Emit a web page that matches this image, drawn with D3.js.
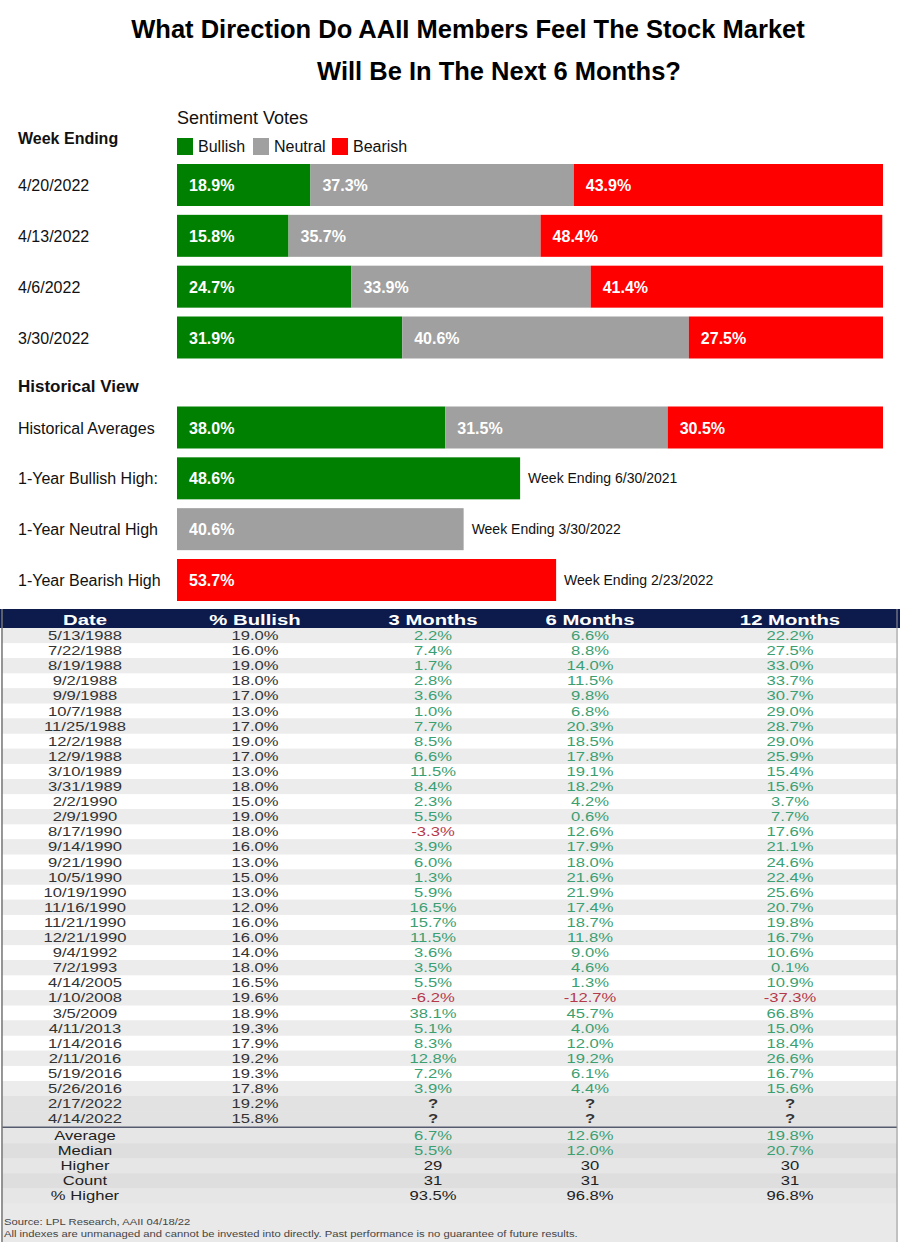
<!DOCTYPE html>
<html>
<head>
<meta charset="utf-8">
<script src="https://cdn.jsdelivr.net/npm/d3@7"></script>
<style>
  body { margin: 0; background: #fff; }
  text { font-family: "Liberation Sans", Arial, sans-serif; }
</style>
</head>
<body>
<div id="chart"></div>
<script>
// Weekly sentiment votes
var weeks = ["4/20/2022", "4/13/2022", "4/6/2022", "3/30/2022"];
var weekBullish = [18.9, 15.8, 24.7, 31.9];
var weekNeutral = [37.3, 35.7, 33.9, 40.6];
var weekBearish = [43.9, 48.4, 41.4, 27.5];

// Historical view
var histAvgLabel = "Historical Averages";
var histAvg = [38.0, 31.5, 30.5];
var highLabels = ["1-Year Bullish High:", "1-Year Neutral High", "1-Year Bearish High"];
var highValues = [48.6, 40.6, 53.7];
var highWeeks = ["Week Ending 6/30/2021", "Week Ending 3/30/2022", "Week Ending 2/23/2022"];

// Table: low bullish readings and forward returns
var tableHeaders = ["Date", "% Bullish", "3 Months", "6 Months", "12 Months"];
var tableDates = ["5/13/1988", "7/22/1988", "8/19/1988", "9/2/1988", "9/9/1988", "10/7/1988",
  "11/25/1988", "12/2/1988", "12/9/1988", "3/10/1989", "3/31/1989", "2/2/1990", "2/9/1990",
  "8/17/1990", "9/14/1990", "9/21/1990", "10/5/1990", "10/19/1990", "11/16/1990", "11/21/1990",
  "12/21/1990", "9/4/1992", "7/2/1993", "4/14/2005", "1/10/2008", "3/5/2009", "4/11/2013",
  "1/14/2016", "2/11/2016", "5/19/2016", "5/26/2016", "2/17/2022", "4/14/2022"];
var tableBullish = [19.0, 16.0, 19.0, 18.0, 17.0, 13.0, 17.0, 19.0, 17.0, 13.0, 18.0, 15.0, 19.0,
  18.0, 16.0, 13.0, 15.0, 13.0, 12.0, 16.0, 16.0, 14.0, 18.0, 16.5, 19.6, 18.9, 19.3,
  17.9, 19.2, 19.3, 17.8, 19.2, 15.8];
var ret3m = [2.2, 7.4, 1.7, 2.8, 3.6, 1.0, 7.7, 8.5, 6.6, 11.5, 8.4, 2.3, 5.5, -3.3, 3.9, 6.0, 1.3,
  5.9, 16.5, 15.7, 11.5, 3.6, 3.5, 5.5, -6.2, 38.1, 5.1, 8.3, 12.8, 7.2, 3.9, null, null];
var ret6m = [6.6, 8.8, 14.0, 11.5, 9.8, 6.8, 20.3, 18.5, 17.8, 19.1, 18.2, 4.2, 0.6, 12.6, 17.9,
  18.0, 21.6, 21.9, 17.4, 18.7, 11.8, 9.0, 4.6, 1.3, -12.7, 45.7, 4.0, 12.0, 19.2, 6.1, 4.4, null, null];
var ret12m = [22.2, 27.5, 33.0, 33.7, 30.7, 29.0, 28.7, 29.0, 25.9, 15.4, 15.6, 3.7, 7.7, 17.6,
  21.1, 24.6, 22.4, 25.6, 20.7, 19.8, 16.7, 10.6, 0.1, 10.9, -37.3, 66.8, 15.0, 18.4, 26.6, 16.7,
  15.6, null, null];
var summaryLabels = ["Average", "Median", "Higher", "Count", "% Higher"];
var summary3m = ["6.7%", "5.5%", "29", "31", "93.5%"];
var summary6m = ["12.6%", "12.0%", "30", "31", "96.8%"];
var summary12m = ["19.8%", "20.7%", "30", "31", "96.8%"];
var sourceNotes = ["Source: LPL Research, AAII 04/18/22",
  "All indexes are unmanaged and cannot be invested into directly. Past performance is no guarantee of future results."];

var W = 900, H = 1242;
var GREEN = "#008000", GRAY = "#a0a0a0", RED = "#ff0000";
var svg = d3.select("#chart").append("svg").attr("width", W).attr("height", H);

// Title (second line sits a little right of the first, as in the source)
svg.selectAll(".title").data(["What Direction Do AAII Members Feel The Stock Market",
  "Will Be In The Next 6 Months?"]).enter().append("text")
  .attr("x", function (d, i) { return i === 0 ? 468 : 499; })
  .attr("y", function (d, i) { return 38 + i * 42; })
  .attr("text-anchor", "middle").style("font-size", "25.5px").style("font-weight", "bold")
  .attr("fill", "#000").text(function (d) { return d; });

// x scale shared by all bars
var x = d3.scaleLinear().domain([0, 100]).range([177, 883]);
var barH = 42;

svg.append("text").attr("x", 177).attr("y", 124).style("font-size", "18px").attr("fill", "#111")
  .text("Sentiment Votes");
svg.append("text").attr("x", 18).attr("y", 144).style("font-size", "16px").style("font-weight", "bold")
  .attr("fill", "#111").text("Week Ending");

// Legend
var legend = [["Bullish", GREEN, 177], ["Neutral", GRAY, 253], ["Bearish", RED, 332]];
var lg = svg.selectAll(".lg").data(legend).enter().append("g")
  .attr("transform", function (d) { return "translate(" + d[2] + ",138)"; });
lg.append("rect").attr("width", 16).attr("height", 17).attr("fill", function (d) { return d[1]; });
lg.append("text").attr("x", 21).attr("y", 14).style("font-size", "16px").attr("fill", "#111")
  .text(function (d) { return d[0]; });

// Stacked bars helper
function stackedRow(g, vals) {
  var cols = [GREEN, GRAY, RED];
  var start = 0;
  vals.forEach(function (v, i) {
    var end = Math.min(start + v, 100);
    g.append("rect").attr("x", x(start)).attr("y", -barH / 2)
      .attr("width", x(end) - x(start)).attr("height", barH).attr("fill", cols[i]);
    g.append("text").attr("x", x(start) + 12).attr("y", 6)
      .style("font-size", "16px").style("font-weight", "bold").attr("fill", "#fff")
      .text(v.toFixed(1) + "%");
    start = end;
  });
}

var yWeek = d3.scalePoint().domain(weeks).range([185, 337.5]);
weeks.forEach(function (w, i) {
  var g = svg.append("g").attr("transform", "translate(0," + yWeek(w) + ")");
  g.append("text").attr("x", 18).attr("y", 6).style("font-size", "16px").attr("fill", "#111").text(w);
  stackedRow(g, [weekBullish[i], weekNeutral[i], weekBearish[i]]);
});

svg.append("text").attr("x", 18).attr("y", 392).style("font-size", "17px").style("font-weight", "bold")
  .attr("fill", "#111").text("Historical View");

var histRows = [histAvgLabel].concat(highLabels);
var yHist = d3.scalePoint().domain(histRows).range([427.5, 580]);
var ga = svg.append("g").attr("transform", "translate(0," + yHist(histAvgLabel) + ")");
ga.append("text").attr("x", 18).attr("y", 6).style("font-size", "16px").attr("fill", "#111").text(histAvgLabel);
stackedRow(ga, histAvg);

var highCols = [GREEN, GRAY, RED];
highLabels.forEach(function (lab, i) {
  var g = svg.append("g").attr("transform", "translate(0," + yHist(lab) + ")");
  g.append("text").attr("x", 18).attr("y", 6).style("font-size", "16px").attr("fill", "#111").text(lab);
  g.append("rect").attr("x", x(0)).attr("y", -barH / 2).attr("width", x(highValues[i]) - x(0))
    .attr("height", barH).attr("fill", highCols[i]);
  g.append("text").attr("x", x(0) + 12).attr("y", 6).style("font-size", "16px")
    .style("font-weight", "bold").attr("fill", "#fff").text(highValues[i].toFixed(1) + "%");
  g.append("text").attr("x", x(highValues[i]) + 8).attr("y", 5).style("font-size", "14px")
    .attr("fill", "#111").text(highWeeks[i]);
});

// ---- Table ----
var tTop = 609, headH = 19;
var colX = d3.scaleOrdinal().domain(tableHeaders).range([85, 255, 433, 590, 790]);
var yRow = d3.scaleBand().domain(tableDates).range([tTop + headH, tTop + headH + 33 * 15.1]);
var sumTop = yRow.range()[1] + 2;
var ySum = d3.scaleBand().domain(summaryLabels).range([sumTop, sumTop + 5 * 15]);

// background panel
svg.append("rect").attr("x", 1).attr("y", tTop).attr("width", 897).attr("height", H - tTop)
  .attr("fill", "#e9e9e9");
svg.selectAll(".rowbg").data(tableDates).enter().append("rect")
  .attr("x", 2).attr("y", function (d) { return yRow(d); }).attr("width", 895)
  .attr("height", yRow.bandwidth())
  .attr("fill", function (d, i) { return i >= 31 ? "#e2e2e2" : (i % 2 === 0 ? "#ececec" : "#fff"); });
svg.selectAll(".sumbg").data(summaryLabels).enter().append("rect")
  .attr("x", 2).attr("y", function (d) { return ySum(d); }).attr("width", 895)
  .attr("height", ySum.bandwidth())
  .attr("fill", function (d, i) { return i % 2 === 0 ? "#e6e6e6" : "#dedede"; });
svg.append("rect").attr("x", 0).attr("y", tTop).attr("width", 900).attr("height", headH).attr("fill", "#0c1b4b");
svg.append("line").attr("x1", 2).attr("x2", 897).attr("y1", sumTop - 1).attr("y2", sumTop - 1)
  .attr("stroke", "#555b6e").attr("stroke-width", 1.5);
svg.append("line").attr("x1", 2).attr("x2", 2).attr("y1", tTop).attr("y2", H)
  .attr("stroke", "#777").attr("stroke-width", 1.5);
svg.append("line").attr("x1", 897).attr("x2", 897).attr("y1", tTop).attr("y2", H)
  .attr("stroke", "#999").attr("stroke-width", 1);

function cell(txt, cx, cy, opts) {
  svg.append("text").attr("transform", "translate(" + cx + "," + cy + ") scale(" + (opts.sx || 1.33) + ",1)")
    .attr("text-anchor", "middle").attr("dy", "0.36em")
    .style("font-size", (opts.size || 12.5) + "px").style("font-weight", opts.bold ? "bold" : "normal")
    .attr("fill", opts.fill || "#333").text(txt);
}

tableHeaders.forEach(function (h) {
  cell(h, colX(h), tTop + headH / 2 + 1, { size: 14.5, bold: true, fill: "#fff", sx: 1.4 });
});

function retColor(v) { return v == null ? "#333" : (v < 0 ? "#b5394a" : "#3b9f72"); }
function fmt(v) { return v == null ? "?" : v.toFixed(1) + "%"; }
var half = yRow.bandwidth() / 2;
tableDates.forEach(function (d, i) {
  var cy = yRow(d) + half;
  cell(d, colX("Date"), cy, {});
  cell(tableBullish[i].toFixed(1) + "%", colX("% Bullish"), cy, {});
  [[ret3m, "3 Months"], [ret6m, "6 Months"], [ret12m, "12 Months"]].forEach(function (c) {
    var v = c[0][i];
    cell(fmt(v), colX(c[1]), cy, { fill: retColor(v), bold: v == null });
  });
});

summaryLabels.forEach(function (s, i) {
  var cy = ySum(s) + ySum.bandwidth() / 2;
  cell(s, colX("Date"), cy, { fill: "#222" });
  [[summary3m, "3 Months"], [summary6m, "6 Months"], [summary12m, "12 Months"]].forEach(function (c) {
    var t = c[0][i];
    cell(t, colX(c[1]), cy, { fill: i < 2 ? "#3b9f72" : "#222" });
  });
});

sourceNotes.forEach(function (t, i) {
  svg.append("text").attr("transform", "translate(4," + (1225 + i * 12) + ") scale(1.25,1)")
    .style("font-size", "9px").attr("fill", "#444").text(t);
});
</script>
</body>
</html>
